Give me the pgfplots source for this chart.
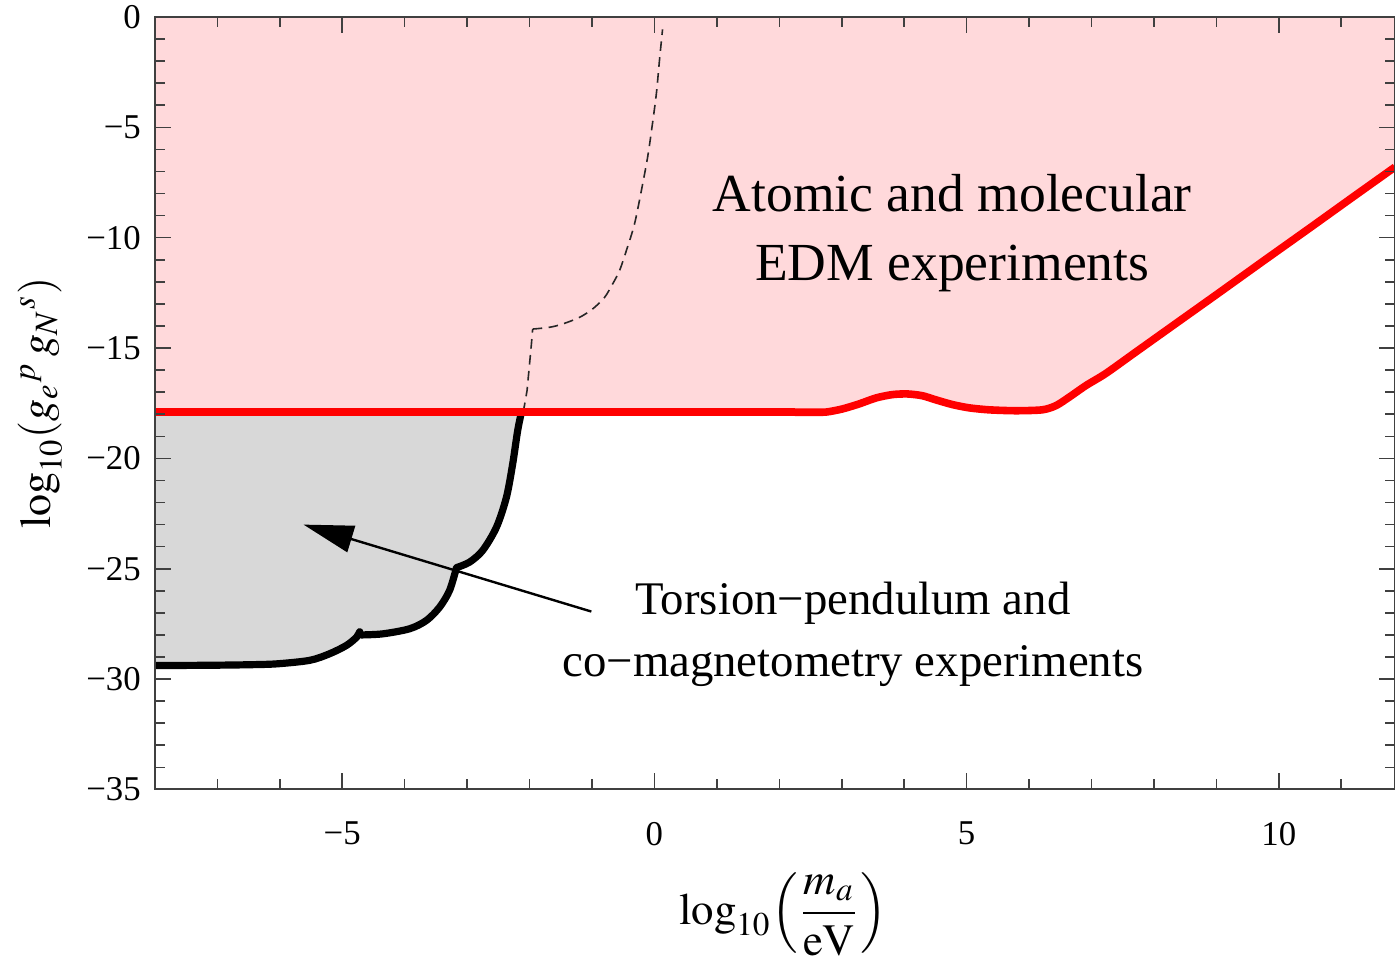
\documentclass[border=0pt]{standalone}
\usepackage{mathptmx}
\usepackage{fontspec}
\setmainfont{Liberation Serif}
\usepackage{pgfplots}
\pgfplotsset{compat=1.18}
\usetikzlibrary{arrows.meta}
\definecolor{pinkfill}{RGB}{255,217,219}
\definecolor{grayfill}{RGB}{216,216,216}
\begin{document}
\begin{tikzpicture}
\useasboundingbox (-38.75pt,-44pt) rectangle (310.25pt,197.5pt);
\begin{axis}[
  at={(0pt,0pt)}, anchor=south west,
  scale only axis, width=310.25pt, height=193.25pt,
  xmin=-8, xmax=11.86, ymin=-35, ymax=0,
  xtick={-5,0,5,10}, xticklabels={−5,0,5,10},
  ytick={-35,-30,-25,-20,-15,-10,-5,0},
  yticklabels={−35,−30,−25,−20,−15,−10,−5,0},
  minor xtick={-7,-6,-4,-3,-2,-1,1,2,3,4,6,7,8,9,11},
  minor ytick={-34,-33,-32,-31,-29,-28,-27,-26,-24,-23,-22,-21,-19,-18,-17,-16,-14,-13,-12,-11,-9,-8,-7,-6,-4,-3,-2,-1},
  tick align=inside, major tick length=4pt, minor tick length=2.5pt,
  tick style={black!75, line width=0.4pt},
  axis line style={black!75, line width=0.5pt},
  ticklabel style={font=\fontsize{8.7}{10}\selectfont},
  xticklabel style={yshift=-4.6pt},
  xlabel={$\log_{10}\!\left(\displaystyle\frac{m_a}{\mathrm{eV}}\right)$},
  ylabel={$\log_{10}({g_e}^{p}\,{g_N}^{s})$},
  xlabel style={font=\fontsize{11.2}{13}\selectfont, at={(axis description cs:0.5065,-0.1617)}, anchor=center},
  ylabel style={font=\fontsize{11}{13}\selectfont, at={(axis description cs:-0.0927,0.5)}, anchor=center},
  no markers,
  axis on top,
]
% pink region (EDM)
\addplot[draw=none, fill=pinkfill, forget plot] coordinates {
(-8,-17.91) (2.75,-17.91) (3.01,-17.76) (3.28,-17.53) (3.55,-17.26) (3.81,-17.11)
(4.05,-17.08) (4.29,-17.16) (4.51,-17.35) (4.77,-17.56) (5.04,-17.71) (5.36,-17.80)
(5.79,-17.84) (6.21,-17.80) (6.43,-17.61) (6.64,-17.23) (6.91,-16.70) (7.23,-16.15)
(9.0,-12.58) (10.5,-9.55) (11.86,-6.8) (11.86,0) (-8,0)} -- cycle;
% gray region (torsion pendulum)
\addplot[draw=none, fill=grayfill, forget plot] coordinates {
(-8,-29.38) (-7,-29.37) (-6.05,-29.31) (-5.52,-29.15) (-5.2,-28.85) (-4.93,-28.47)
(-4.77,-28.10) (-4.72,-27.85) (-4.67,-28.02) (-4.35,-27.95) (-3.92,-27.72) (-3.65,-27.34)
(-3.44,-26.74) (-3.28,-25.98) (-3.17,-24.95) (-2.96,-24.70) (-2.75,-24.17) (-2.53,-23.12)
(-2.37,-21.76) (-2.27,-20.25) (-2.19,-18.74) (-2.13,-17.91) (-8,-17.91)} -- cycle;
% dashed curve
\addplot[black!85, line width=0.4pt, dash pattern=on 2.4pt off 1.6pt] coordinates {
(-2.10,-17.9) (-2.04,-16.93) (-1.97,-14.82) (-1.95,-14.14)};
\addplot[black!85, line width=0.4pt, dash pattern=on 2.4pt off 1.6pt, smooth, tension=0.5] coordinates {
(-1.95,-14.14) (-1.68,-14.06) (-1.47,-13.91)
(-1.2,-13.61) (-0.99,-13.23) (-0.8,-12.71) (-0.67,-12.10) (-0.56,-11.50) (-0.45,-10.59)
(-0.32,-9.39) (-0.21,-7.88) (-0.11,-6.37) (-0.04,-5.01) (0.03,-3.50) (0.08,-1.99) (0.13,-0.56)};
% black curve (three branches)
\addplot[black, line width=1.8pt, line cap=round, smooth, tension=0.5] coordinates {
(-8,-29.38) (-7.5,-29.38) (-7,-29.37) (-6.5,-29.35) (-6.05,-29.31) (-5.52,-29.15) (-5.2,-28.85) (-4.93,-28.47)
(-4.77,-28.10) (-4.72,-27.85)};
\addplot[black, line width=1.8pt, line cap=round, smooth, tension=0.5] coordinates {
(-4.70,-28.0) (-4.35,-27.95) (-3.92,-27.72) (-3.65,-27.34)
(-3.44,-26.74) (-3.28,-25.98) (-3.17,-24.95)};
\addplot[black, line width=1.8pt, smooth, tension=0.5] coordinates {
(-3.17,-24.95) (-2.96,-24.70) (-2.75,-24.17) (-2.53,-23.12)
(-2.37,-21.76) (-2.27,-20.25) (-2.19,-18.74) (-2.13,-17.91)};
% red curve
\addplot[red, line width=1.9pt, line join=round] coordinates {
(-8,-17.91) (2.25,-17.91)};
\addplot[red, line width=1.9pt, line join=round, smooth, tension=0.45] coordinates {
(2.25,-17.91) (2.5,-17.91) (2.75,-17.90) (3.01,-17.76) (3.28,-17.53) (3.55,-17.26) (3.81,-17.11)
(4.05,-17.08) (4.29,-17.16) (4.51,-17.35) (4.77,-17.56) (5.04,-17.71) (5.36,-17.80)
(5.79,-17.84) (6.21,-17.80) (6.43,-17.61) (6.64,-17.23) (6.91,-16.70) (7.23,-16.15)
(7.7,-15.20) (8.3,-13.99) (9.0,-12.58) (9.75,-11.06) (10.5,-9.55) (11.2,-8.13) (11.86,-6.8)};
% arrow
\draw[black, line width=0.6pt, -{Triangle[length=12.5pt,width=6.8pt]}]
  (axis cs:-1.01,-26.94) -- (axis cs:-5.62,-23.0);
% texts
\node[anchor=base, font=\fontsize{13.4}{16}\selectfont] at (axis cs:4.77,-8.83) {Atomic and molecular};
\node[anchor=base, font=\fontsize{13.4}{16}\selectfont] at (axis cs:4.77,-11.95) {EDM experiments};
\node[anchor=base, font=\fontsize{11.7}{14}\selectfont] at (axis cs:3.18,-27.07) {Torsion−pendulum and};
\node[anchor=base, font=\fontsize{11.7}{14}\selectfont] at (axis cs:3.18,-29.88) {co−magnetometry experiments};
\end{axis}
\end{tikzpicture}
\end{document}
